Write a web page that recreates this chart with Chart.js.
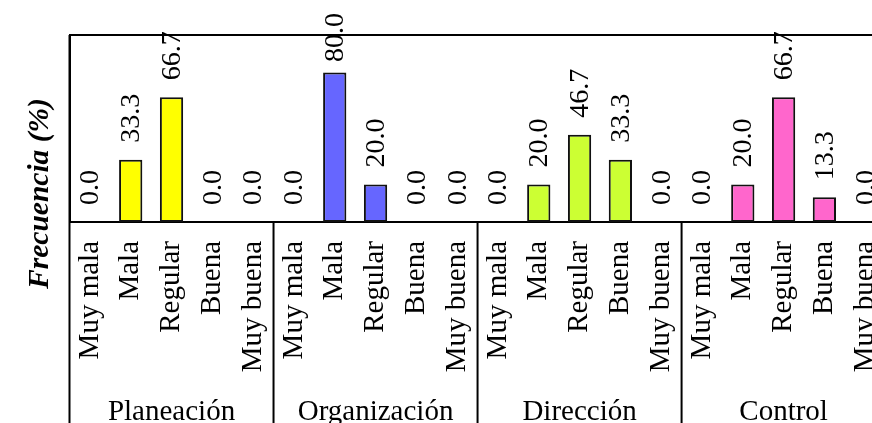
<!DOCTYPE html>
<html>
<head>
<meta charset="utf-8">
<script src="https://cdn.jsdelivr.net/npm/chart.js@4.4.1/dist/chart.umd.min.js"></script>
<style>
  html, body { margin: 0; padding: 0; background: #fff; overflow: hidden; }
  #wrap { position: relative; width: 911px; height: 423px; }
</style>
</head>
<body>
<div id="wrap"><canvas id="chart"></canvas></div>
<script>
// datos
const groups = ["Planeación", "Organización", "Dirección", "Control"];
const levels = ["Muy mala", "Mala", "Regular", "Buena", "Muy buena"];
const planeacion = [0.0, 33.3, 66.7, 0.0, 0.0];
const organizacion = [0.0, 80.0, 20.0, 0.0, 0.0];
const direccion = [0.0, 20.0, 46.7, 33.3, 0.0];
const control = [0.0, 20.0, 66.7, 13.3, 0.0];
const groupColors = ["#ffff00", "#6666ff", "#ccff33", "#ff66cc"];

const series = [planeacion, organizacion, direccion, control];
const labels = [];
const values = [];
const colors = [];
series.forEach((vals, g) => {
  vals.forEach((v, i) => {
    labels.push(levels[i]);
    values.push(v);
    colors.push(groupColors[g]);
  });
});

const serif = "'Liberation Serif', 'Times New Roman', serif";

// etiquetas de valor, grupos, separadores y titulo del eje
const extras = {
  id: 'extras',
  afterDatasetsDraw(chart) {
    const ctx = chart.ctx;
    const meta = chart.getDatasetMeta(0);
    ctx.save();
    ctx.fillStyle = '#000';
    ctx.font = "28px " + serif;
    ctx.textAlign = 'left';
    ctx.textBaseline = 'middle';
    meta.data.forEach((bar, i) => {
      const txt = values[i].toFixed(1);
      const w = ctx.measureText(txt).width;
      let start = bar.y - 17;
      if (start - w < 13) start = 13 + w;
      ctx.save();
      ctx.translate(bar.x + 1, start);
      ctx.rotate(-Math.PI / 2);
      ctx.fillText(txt, 0, 0);
      ctx.restore();
    });
    ctx.restore();
  },
  afterDraw(chart) {
    const ctx = chart.ctx;
    const area = chart.chartArea;
    const x = chart.scales.x;
    const H = chart.height;
    ctx.save();
    ctx.strokeStyle = '#000';
    ctx.lineWidth = 2;
    // marco superior
    ctx.beginPath();
    ctx.moveTo(area.left, area.top);
    ctx.lineTo(area.right, area.top);
    ctx.stroke();
    // linea izquierda hasta abajo
    ctx.beginPath();
    ctx.moveTo(area.left, area.top);
    ctx.lineTo(area.left, H);
    ctx.stroke();
    const n = levels.length;
    const step = x.getPixelForValue(1) - x.getPixelForValue(0);
    ctx.fillStyle = '#000';
    ctx.font = "29px " + serif;
    ctx.textAlign = 'center';
    ctx.textBaseline = 'alphabetic';
    groups.forEach((g, gi) => {
      const first = x.getPixelForValue(gi * n);
      const last = x.getPixelForValue(gi * n + n - 1);
      const sep = last + step / 2;
      if (gi < groups.length - 1) {
        ctx.beginPath();
        ctx.moveTo(sep, area.bottom);
        ctx.lineTo(sep, H);
        ctx.stroke();
      }
      ctx.fillText(g, (first + last) / 2, 420);
    });
    // titulo del eje y
    ctx.font = "bold italic 29.5px " + serif;
    ctx.translate(40, 193.5);
    ctx.rotate(-Math.PI / 2);
    ctx.textBaseline = 'middle';
    ctx.fillText("Frecuencia (%)", 0, 0);
    ctx.restore();
  }
};

new Chart(document.getElementById('chart'), {
  type: 'bar',
  data: {
    labels: labels,
    datasets: [{
      data: values,
      backgroundColor: colors,
      borderColor: '#111',
      borderWidth: 2,
      borderSkipped: false,
      categoryPercentage: 1.0,
      barPercentage: 0.57
    }]
  },
  options: {
    responsive: true,
    maintainAspectRatio: false,
    animation: false,
    layout: { padding: { left: 0, top: 35, right: 0, bottom: 0 } },
    plugins: { legend: { display: false }, tooltip: { enabled: false } },
    scales: {
      x: {
        grid: { display: false },
        border: { display: true, color: '#000', width: 2 },
        ticks: {
          autoSkip: false,
          minRotation: 90,
          maxRotation: 90,
          padding: 11,
          color: '#000',
          font: { family: serif, size: 29 }
        },
        afterFit(s) { s.height = 201; }
      },
      y: {
        min: 0,
        max: 100,
        grid: { display: false },
        border: { display: true, color: '#000', width: 2 },
        ticks: { display: false },
        afterFit(s) { s.width = 69.5; }
      }
    }
  },
  plugins: [extras]
});
</script>
</body>
</html>
